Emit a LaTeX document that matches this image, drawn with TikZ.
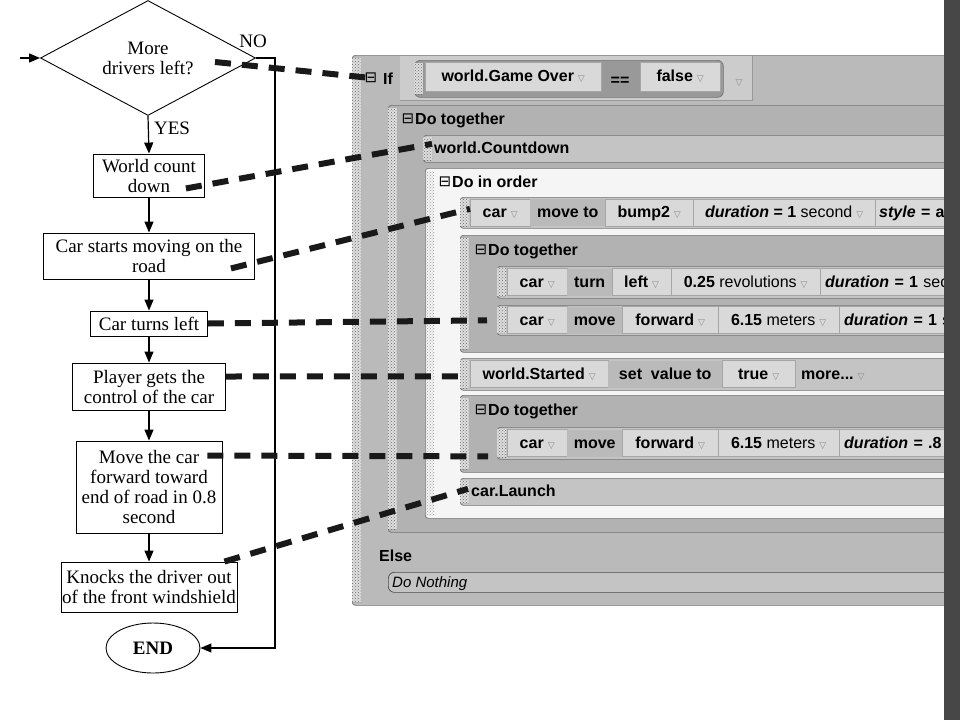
\documentclass[tikz,border=0pt]{standalone}
\usepackage{fontspec}
\setmainfont{Liberation Serif}
\newfontfamily\alicefont{Liberation Sans}
\newfontfamily\symfont{DejaVu Sans}
\usetikzlibrary{shapes.geometric,arrows.meta,patterns,positioning}

\definecolor{ifgray}{gray}{0.73}
\definecolor{headgray}{gray}{0.80}
\definecolor{condgray}{gray}{0.60}
\definecolor{dtgray}{gray}{0.70}
\definecolor{rowgray}{gray}{0.77}
\definecolor{itemgray}{gray}{0.85}
\definecolor{verbgray}{gray}{0.73}
\definecolor{ordergray}{gray}{0.96}
\definecolor{bargray}{gray}{0.28}
\definecolor{edgegray}{gray}{0.45}

\def\flowfont{\fontsize{19}{20}\selectfont}
\def\alice{\alicefont\bfseries\fontsize{16}{18}\selectfont}
\newcommand{\tri}{\hspace{4pt}{\symfont\mdseries\fontsize{9}{9}\selectfont\color{black!45}▽}}
\newcommand{\handle}[3]{\fill[black!12] (#1,#2) rectangle (#1+9,#3);
  \fill[pattern=crosshatch dots,pattern color=black!60] (#1,#2) rectangle (#1+9,#3);}

\begin{document}
\begin{tikzpicture}[x=1pt,y=-1pt]
\tikzstyle{stepbox}=[draw,line width=0.9pt,align=center,inner sep=1pt,font=\flowfont]
\tikzstyle{decision}=[draw,line width=0.9pt,diamond,aspect=1.87,inner sep=0pt,minimum width=215pt,minimum height=115pt,align=center,font=\flowfont]
\tikzstyle{endcap}=[draw,line width=0.9pt,ellipse,inner sep=0pt,minimum width=94pt,minimum height=50pt,font=\flowfont\bfseries]
\tikzstyle{flowarrow}=[-{Triangle[length=11pt,width=9pt]},line width=1.2pt]
\tikzstyle{dashlink}=[line width=6pt,dash pattern=on 16pt off 11pt,black!90]
\tikzstyle{aliblock}=[draw=edgegray,line width=0.7pt,rounded corners=3pt,anchor=north west,inner sep=0pt]
\tikzstyle{alirow}=[aliblock,fill=rowgray]
\tikzstyle{alicell}=[fill=itemgray,draw=black!35,line width=0.4pt,anchor=west,inner sep=0pt,minimum height=27pt,text height=11.5pt,text depth=1pt,font=\alice]
\tikzstyle{aliverb}=[alicell,fill=verbgray,draw=none]
\tikzstyle{alihead}=[anchor=west,inner sep=0pt,text height=11.5pt,text depth=1pt,font=\alice]
\tikzstyle{aliicon}=[inner sep=0pt,font=\symfont\fontsize{15}{15}\selectfont]

\useasboundingbox (0,0) rectangle (960,720);
\fill[white] (0,0) rectangle (960,720);

% Flowchart on the left
\node[decision] (ask) at (148,58) {More\\drivers left?};
\node[stepbox,minimum width=111pt,minimum height=43pt] (count) at (149,175.5) {World count\\down};
\node[stepbox,minimum width=211pt,minimum height=46pt] (start) at (149,256) {Car starts moving on the\\road};
\node[stepbox,minimum width=117pt,minimum height=25pt] (turn) at (149,323.5) {Car turns left};
\node[stepbox,minimum width=153pt,minimum height=47pt] (player) at (149,386.5) {Player gets the\\control of the car};
\node[stepbox,minimum width=146pt,minimum height=92pt] (move) at (149,487) {Move the car\\forward toward\\end of road in 0.8\\second};
\node[stepbox,minimum width=176pt,minimum height=50pt] (knock) at (149,587) {Knocks the driver out\\of the front windshield};
\node[endcap] (endn) at (153,648) {END};

\node[font=\flowfont] (nolbl) at (253,41) {NO};
\node[font=\flowfont] (yeslbl) at (172,128) {YES};

\coordinate (entry) at (20,58);
\coordinate (noturn) at (275,58);

\draw[flowarrow] (entry) -- (ask.west);
\draw[flowarrow] (ask.south) -- (count.north);
\draw[flowarrow] (count.south) -- (start.north);
\draw[flowarrow] (start.south) -- (turn.north);
\draw[flowarrow] (turn.south) -- (player.north);
\draw[flowarrow] (player.south) -- (move.north);
\draw[flowarrow] (move.south) -- (knock.north);
\draw[flowarrow] (ask.east) -- (noturn) |- (endn.east);

% Alice code panel on the right
\begin{scope}
\clip (340,0) rectangle (944,720);
\node[aliblock,fill=ifgray,minimum width=620pt,minimum height=550pt] (ifblk) at (352,55) {};
\handle{352}{58}{602}
\fill[headgray] (400,56) rectangle (752,100);
\draw[black!40,line width=0.6pt] (400,100) -| (752,56);
\node[aliicon] (ificon) at (371,78) {⊟};
\node[alihead] (iflbl) at (383,79) {If};

\node[aliblock,fill=condgray,rounded corners=6pt,minimum width=309pt,minimum height=37pt] (cond) at (414,60) {};
\handle{414}{63}{94}
\node[alicell,minimum width=176pt,minimum height=29pt] (gameover) at (425,76.5) {world.Game Over\tri};
\node[alihead,anchor=center] (eqsign) at (620,80) {==};
\node[alicell,minimum width=80pt,minimum height=29pt] (falsev) at (640,76.5) {false\tri};
\node[alihead,anchor=center] (conddrop) at (737,80) {\tri};

\node[aliblock,fill=dtgray,minimum width=580pt,minimum height=427pt] (dtA) at (388,105) {};
\handle{388}{108}{529}
\node[aliicon] (dtAicon) at (408,119) {⊟};
\node[alihead] (dtAhead) at (415,119) {Do together};

\node[alirow,minimum width=545pt,minimum height=27pt] (cntdn) at (423,135) {};
\handle{423}{137}{160}
\node[alihead] (cntdnlbl) at (434,148.5) {world.Countdown};

\node[aliblock,fill=ordergray,minimum width=545pt,minimum height=350pt] (order) at (425,168) {};
\fill[pattern=crosshatch dots,pattern color=black!40] (425,171) rectangle (434,515);
\node[aliicon] (ordericon) at (445,182) {⊟};
\node[alihead] (orderhead) at (452,182) {Do in order};

% car move to bump2
\node[alirow,minimum width=510pt,minimum height=31pt] (moveto) at (460,197) {};
\handle{460}{199}{226}
\node[alicell,minimum width=60pt] (mtcar) at (470,212.5) {car\tri};
\node[aliverb,minimum width=75pt] (mtverb) at (530,212.5) {move to};
\node[alicell,minimum width=88pt] (mtbump) at (605,212.5) {bump2\tri};
\node[alicell,minimum width=182pt] (mtdur) at (693,212.5) {\textit{duration} = 1 {\mdseries second}\tri};
\node[alicell,text width=150pt,align=left,inner xsep=4pt] (mtstyle) at (875,212.5) {\textit{style} = a};

% first inner Do together
\node[aliblock,fill=dtgray,minimum width=510pt,minimum height=117pt] (dtB) at (460,235) {};
\handle{460}{238}{349}
\node[aliicon] (dtBicon) at (481,250) {⊟};
\node[alihead] (dtBhead) at (488,250) {Do together};

\node[alirow,minimum width=473pt,minimum height=32pt] (turnrow) at (497,266) {};
\handle{497}{268}{296}
\node[alicell,minimum width=60pt] (trcar) at (507,282) {car\tri};
\node[aliverb,minimum width=45pt] (trverb) at (567,282) {turn};
\node[alicell,minimum width=59pt] (trleft) at (612,282) {left\tri};
\node[alicell,minimum width=149pt] (trrev) at (671,282) {0.25 {\mdseries revolutions}\tri};
\node[alicell,text width=150pt,align=left,inner xsep=5pt] (trdur) at (820,282) {\textit{duration} = 1 {\mdseries sec}};

\node[alirow,minimum width=473pt,minimum height=30pt] (fwd) at (497,305) {};
\handle{497}{307}{333}
\node[alicell,minimum width=60pt] (fwcar) at (507,320) {car\tri};
\node[aliverb,minimum width=55pt] (fwverb) at (567,320) {move};
\node[alicell,minimum width=96pt] (fwdir) at (622,320) {forward\tri};
\node[alicell,minimum width=121pt] (fwdist) at (718,320) {6.15 {\mdseries meters}\tri};
\node[alicell,text width=150pt,align=left,inner xsep=5pt] (fwdur) at (839,320) {\textit{duration} = 1 {\mdseries s}};

% world.Started set value
\node[alirow,minimum width=510pt,minimum height=32pt] (started) at (460,358) {};
\handle{460}{360}{388}
\node[alicell,minimum width=138pt] (stname) at (470,374) {world.Started\tri};
\node[aliverb,minimum width=114pt] (stverb) at (608,374) {set\ \ value to};
\node[alicell,minimum width=73pt] (sttrue) at (722,374) {true\tri};
\node[alihead] (stmore) at (801,374) {more...\tri};

% second inner Do together
\node[aliblock,fill=dtgray,minimum width=510pt,minimum height=77pt] (dtC) at (460,395) {};
\handle{460}{398}{469}
\node[aliicon] (dtCicon) at (481,410) {⊟};
\node[alihead] (dtChead) at (488,410) {Do together};

\node[alirow,minimum width=473pt,minimum height=32pt] (fwd2) at (497,427) {};
\handle{497}{429}{457}
\node[alicell,minimum width=60pt] (fw2car) at (507,443) {car\tri};
\node[aliverb,minimum width=55pt] (fw2verb) at (567,443) {move};
\node[alicell,minimum width=96pt] (fw2dir) at (622,443) {forward\tri};
\node[alicell,minimum width=121pt] (fw2dist) at (718,443) {6.15 {\mdseries meters}\tri};
\node[alicell,text width=150pt,align=left,inner xsep=5pt] (fw2dur) at (839,443) {\textit{duration} = .8};

\node[alirow,minimum width=510pt,minimum height=27pt] (launch) at (460,478) {};
\handle{460}{480}{503}
\node[alihead] (launchlbl) at (471,491.5) {car.Launch};

\node[alihead] (elselbl) at (379,556) {Else};
\node[alirow,draw=black!70,rounded corners=6pt,minimum width=580pt,minimum height=20pt] (nothing) at (388,572) {};
\node[alihead,font=\alicefont\itshape\fontsize{15}{17}\selectfont] (nothinglbl) at (392,582) {Do Nothing};
\end{scope}

\fill[bargray] (944,0) rectangle (960,720);

% Dashed links from the flowchart to the code
\draw[dashlink] ([xshift=67pt,yshift=-4pt]ask.center) -- (ificon.center);
\draw[dashlink] ([xshift=-19pt,yshift=9pt]count.south east) -- ([xshift=9pt,yshift=5pt]cntdn.west);
\draw[dashlink] ([xshift=-24pt,yshift=11pt]start.south east) -- ([xshift=10pt,yshift=4pt]moveto.west);
\draw[dashlink] (turn.east) -- ([xshift=-10pt]fwd.west);
\draw[dashlink] ([yshift=10pt]player.east) -- ([xshift=8pt,yshift=-2pt]started.west);
\draw[dashlink] ([xshift=-15pt,yshift=-15pt]move.north east) -- ([xshift=-9pt,yshift=-13pt]fwd2.west);
\draw[dashlink] ([xshift=-13pt]knock.north east) -- ([xshift=8pt,yshift=3pt]launch.west);
\end{tikzpicture}
\end{document}
